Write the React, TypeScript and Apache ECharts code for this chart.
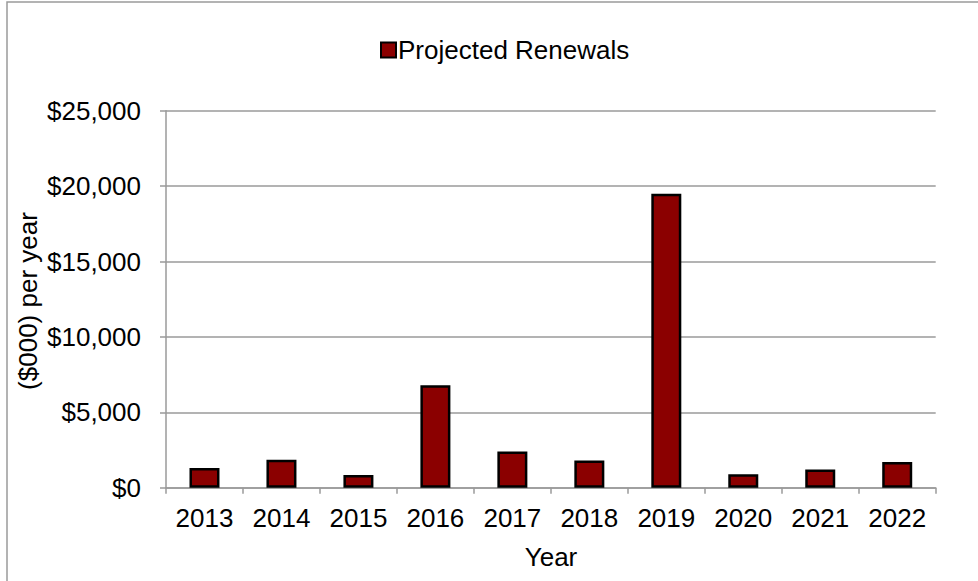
import React, { useEffect, useRef } from "react";
import * as echarts from "echarts";

const years = ["2013", "2014", "2015", "2016", "2017", "2018", "2019", "2020", "2021", "2022"];
const renewals = [1300, 1850, 850, 6800, 2400, 1800, 19500, 900, 1200, 1700];
const seriesName = "Projected Renewals";
const yTicks = [0, 5000, 10000, 15000, 20000, 25000];

const FONT = "'Liberation Sans', Arial, sans-serif";
const FS = 26;

export default function App() {
  const ref = useRef<HTMLDivElement>(null);
  useEffect(() => {
    if (!ref.current) return;
    const chart = echarts.init(ref.current, null, { renderer: "svg" });
    chart.setOption({
      animation: false,
      backgroundColor: "#fff",
      textStyle: { fontFamily: FONT },
      grid: { left: 166, right: 42.3, top: 110.7, bottom: 93.3, containLabel: false },
      legend: {
        left: 375,
        top: 32,
        itemWidth: 15,
        itemHeight: 15,
        itemGap: 6,
        icon: "rect",
        textStyle: { fontSize: FS, color: "#000", fontFamily: FONT, padding: [0, 0, 0, -3] },
        data: [seriesName],
      },
      xAxis: {
        type: "category",
        data: years,
        axisLine: { show: true, lineStyle: { color: "#9a9a9a", width: 1.5 } },
        axisTick: { show: true, length: 6, lineStyle: { color: "#9a9a9a", width: 1.5 } },
        axisLabel: { fontSize: FS, color: "#000", margin: 17, fontFamily: FONT },
        splitLine: { show: false },
      },
      yAxis: {
        type: "value",
        min: yTicks[0],
        max: yTicks[yTicks.length - 1],
        interval: 5000,
        axisLine: { show: true, lineStyle: { color: "#9a9a9a", width: 1.5 } },
        axisTick: { show: true, length: 6, lineStyle: { color: "#9a9a9a", width: 1.5 } },
        axisLabel: {
          fontSize: FS,
          color: "#000",
          margin: 25,
          fontFamily: FONT,
          formatter: (v: number) => "$" + v.toLocaleString("en-US"),
        },
        splitLine: { show: true, lineStyle: { color: "#9a9a9a", width: 1.5 } },
      },
      series: [
        {
          name: seriesName,
          type: "bar",
          data: renewals,
          barWidth: 30,
          itemStyle: { color: "#8b0000", borderColor: "#000", borderWidth: 2.5 },
        },
      ],
      graphic: [
        {
          type: "rect",
          shape: { x: 7, y: 2, width: 1000, height: 620 },
          style: { fill: "none", stroke: "#9a9a9a", lineWidth: 1.5 },
          silent: true,
          z: -1,
        },
        {
          type: "text",
          x: 28,
          y: 301,
          rotation: Math.PI / 2,
          style: {
            text: "($000) per year",
            fontSize: FS,
            fill: "#000",
            fontFamily: FONT,
            align: "center",
            verticalAlign: "middle",
          },
        },
        {
          type: "text",
          x: 551,
          y: 557,
          style: {
            text: "Year",
            fontSize: FS,
            fill: "#000",
            fontFamily: FONT,
            align: "center",
            verticalAlign: "middle",
          },
        },
      ],
    });
    return () => chart.dispose();
  }, []);
  return (
    <div
      ref={ref}
      style={{ position: "fixed", left: 0, top: 0, width: 978, height: 581 }}
    />
  );
}
